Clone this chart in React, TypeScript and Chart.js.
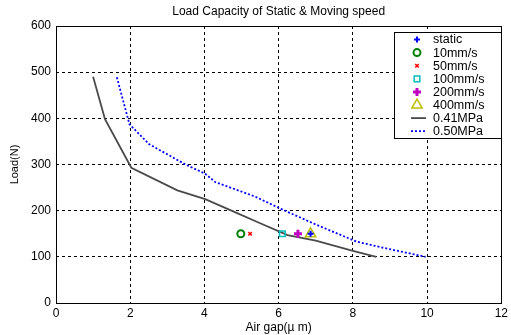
import React, { useEffect, useRef } from "react";
import { Chart, registerables } from "chart.js";
import { drawPoint } from "chart.js/helpers";

Chart.register(...registerables);

const TITLE = "Load Capacity of Static & Moving speed";
const X_LABEL = "Air gap(\u00b5 m)";
const Y_LABEL = "Load(N)";

const line041X = [1.0, 1.32, 2.03, 3.27, 4.02, 4.82, 5.44, 6.24, 7.0, 8.0, 8.63];
const line041Y = [490, 398, 293, 244, 225, 197, 175, 147, 135, 113, 100];

const line050X = [1.64, 1.98, 2.51, 3.49, 4.02, 4.29, 5.35, 6.06, 7.0, 8.1, 8.8, 9.96];
const line050Y = [489, 387, 344, 300, 280, 262, 231, 204, 170, 133, 120, 100];

const staticPt = { x: 6.86, y: 150 };
const pt10 = { x: 4.98, y: 150 };
const pt50 = { x: 5.23, y: 150 };
const pt100 = { x: 6.1, y: 150 };
const pt200 = { x: 6.52, y: 150 };
const pt400 = { x: 6.86, y: 150 };

const FONT = "'Liberation Sans', Arial, sans-serif";

function zip(xs: number[], ys: number[]) {
  return xs.map((x, i) => ({ x, y: ys[i] }));
}

type LegendItem = { label: string; kind: "point" | "line"; ds: any };

const framePlugin = {
  id: "frame",
  afterDraw(chart: any) {
    const { ctx, chartArea } = chart;
    const { left, right, top, bottom } = chartArea;
    ctx.save();
    ctx.strokeStyle = "#000";
    ctx.lineWidth = 1;
    ctx.setLineDash([]);
    ctx.strokeRect(Math.round(left) + 0.5, Math.round(top) + 0.5, Math.round(right - left), Math.round(bottom - top));

    // title
    ctx.fillStyle = "#000";
    ctx.font = `12px ${FONT}`;
    ctx.textAlign = "center";
    ctx.textBaseline = "middle";
    ctx.fillText(TITLE, (left + right) / 2, 12);

    // legend
    const items: LegendItem[] = chart.data.datasets.map((ds: any) => ({
      label: ds.label,
      kind: ds.showLine ? "line" : "point",
      ds,
    }));
    const bx = 394, by = 32, bw = 107, bh = 106;
    ctx.fillStyle = "#fff";
    ctx.fillRect(bx, by, bw, bh);
    ctx.strokeStyle = "#000";
    ctx.strokeRect(bx + 0.5, by + 0.5, bw, bh);
    const rowH = 13.1;
    items.forEach((it, i) => {
      const cy = by + 7.5 + i * rowH;
      const ds = it.ds;
      if (it.kind === "line") {
        ctx.save();
        ctx.strokeStyle = ds.borderColor;
        ctx.lineWidth = ds.borderWidth;
        ctx.setLineDash(ds.borderDash || []);
        ctx.beginPath();
        ctx.moveTo(411, cy);
        ctx.lineTo(426, cy);
        ctx.stroke();
        ctx.restore();
      } else {
        ctx.save();
        ctx.lineWidth = ds.pointBorderWidth;
        ctx.strokeStyle = ds.pointBorderColor;
        ctx.fillStyle = ds.pointBackgroundColor;
        drawPoint(ctx, {
          pointStyle: ds.pointStyle,
          radius: ds.pointRadius,
          rotation: 0,
          borderWidth: ds.pointBorderWidth,
        } as any, 417, cy);
        ctx.restore();
      }
      ctx.fillStyle = "#000";
      ctx.font = `12.5px ${FONT}`;
      ctx.textAlign = "left";
      ctx.textBaseline = "middle";
      ctx.fillText(it.label, 433, cy + 0.5);
    });
    ctx.restore();
  },
};

function pointDs(label: string, pt: { x: number; y: number }, style: string, color: string, fill: string, radius: number, bw: number) {
  return {
    label,
    data: [pt],
    showLine: false,
    pointStyle: style,
    pointRadius: radius,
    pointHoverRadius: radius,
    pointBorderColor: color,
    pointBackgroundColor: fill,
    pointBorderWidth: bw,
    borderColor: color,
    backgroundColor: fill,
  };
}

export default function App() {
  const ref = useRef<HTMLCanvasElement>(null);
  useEffect(() => {
    document.body.style.margin = "0";
    const canvas = ref.current!;
    const chart = new Chart(canvas, {
      type: "scatter",
      data: {
        datasets: [
          pointDs("static", staticPt, "cross", "#0000ff", "#0000ff", 3, 2),
          pointDs("10mm/s", pt10, "circle", "#008000", "rgba(0,0,0,0)", 3.5, 2),
          pointDs("50mm/s", pt50, "crossRot", "#ff0000", "#ff0000", 2.5, 1.5),
          pointDs("100mm/s", pt100, "rect", "#00bfbf", "rgba(0,0,0,0)", 4, 1.5),
          pointDs("200mm/s", pt200, "cross", "#bf00bf", "#bf00bf", 4, 3),
          pointDs("400mm/s", pt400, "triangle", "#bfbf00", "rgba(0,0,0,0)", 6, 1.5),
          {
            label: "0.41MPa",
            data: zip(line041X, line041Y),
            showLine: true,
            borderColor: "#4a4a4a",
            borderWidth: 1.8,
            pointRadius: 0,
            tension: 0,
          },
          {
            label: "0.50MPa",
            data: zip(line050X, line050Y),
            showLine: true,
            borderColor: "#0000ff",
            borderWidth: 1.8,
            borderDash: [2, 2],
            pointRadius: 0,
            tension: 0,
          },
        ] as any,
      },
      options: {
        animation: false,
        responsive: false,
        layout: { padding: { top: 26, right: 3, left: 0, bottom: 0 } },
        plugins: { legend: { display: false }, tooltip: { enabled: false }, title: { display: false } },
        scales: {
          x: {
            type: "linear",
            min: 0,
            max: 12,
            ticks: { stepSize: 2, color: "#000", font: { family: FONT, size: 12 }, padding: 3 },
            grid: { color: "#000", lineWidth: 1, tickLength: 0, drawTicks: false },
            border: { display: false, dash: [3, 3] },
            title: { display: true, text: X_LABEL, color: "#000", font: { family: FONT, size: 12 }, padding: { top: 4, bottom: 0 } },
            afterFit: (s: any) => { s.height = 32; },
          } as any,
          y: {
            type: "linear",
            min: 0,
            max: 600,
            ticks: { stepSize: 100, color: "#000", font: { family: FONT, size: 12 }, padding: 5 },
            grid: { color: "#000", lineWidth: 1, tickLength: 0, drawTicks: false },
            border: { display: false, dash: [3, 3] },
            title: { display: true, text: Y_LABEL, color: "#000", font: { family: FONT, size: 11 }, padding: { top: 8, bottom: 0 } },
            afterFit: (s: any) => { s.width = 56; },
          } as any,
        },
      },
      plugins: [framePlugin],
    });
    return () => chart.destroy();
  }, []);
  return <canvas ref={ref} width={511} height={335} style={{ display: "block" }} />;
}
